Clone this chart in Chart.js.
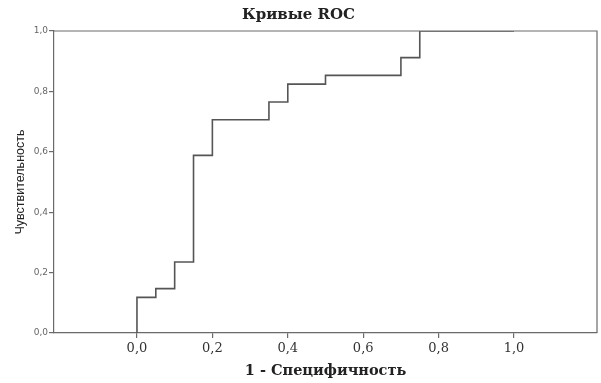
<!DOCTYPE html>
<html>
<head>
<meta charset="utf-8">
<script src="https://cdn.jsdelivr.net/npm/chart.js@4/dist/chart.umd.min.js"></script>
<style>
html,body{margin:0;padding:0;background:#fff;}
#wrap{width:601px;height:383px;}
</style>
</head>
<body>
<div id="wrap"><canvas id="c" width="601" height="383"></canvas></div>
<script>
// ROC staircase vertices
const fpr = [0, 0, 0.05, 0.05, 0.10, 0.10, 0.15, 0.15, 0.20, 0.20, 0.35, 0.35, 0.40, 0.40, 0.50, 0.50, 0.70, 0.70, 0.75, 0.75, 1.00];
const tpr = [0, 0.118, 0.118, 0.147, 0.147, 0.235, 0.235, 0.588, 0.588, 0.706, 0.706, 0.765, 0.765, 0.824, 0.824, 0.853, 0.853, 0.912, 0.912, 1.0, 1.0];
const xTicks = [0, 0.2, 0.4, 0.6, 0.8, 1.0];
const yTicks = [0, 0.2, 0.4, 0.6, 0.8, 1.0];
const titleText = 'Кривые ROC';
const xTitle = '1 - Специфичность';
const yTitle = 'Чувствительность';

const fmt = v => Number(v).toFixed(1).replace('.', ',');
const points = fpr.map((x, i) => ({x: x, y: tpr[i]}));

const frame = {
  id: 'frame',
  afterDraw(chart) {
    const a = chart.chartArea, ctx = chart.ctx;
    ctx.save();
    ctx.strokeStyle = '#6a6a6a';
    ctx.lineWidth = 1.2;
    ctx.beginPath();
    ctx.moveTo(a.left, a.top);
    ctx.lineTo(a.right, a.top);
    ctx.lineTo(a.right, a.bottom);
    ctx.stroke();
    ctx.restore();
  }
};

new Chart(document.getElementById('c'), {
  type: 'scatter',
  data: {
    datasets: [{
      data: points,
      showLine: true,
      borderColor: '#555555',
      borderWidth: 1.6,
      pointRadius: 0,
      fill: false,
      tension: 0
    }]
  },
  options: {
    responsive: false,
    animation: false,
    layout: {padding: {left: 0, right: 4, top: 0, bottom: 0}},
    plugins: {
      legend: {display: false},
      tooltip: {enabled: false},
      title: {
        display: true,
        text: titleText,
        color: '#222',
        font: {family: 'DejaVu Serif', size: 15, weight: 'bold'},
        padding: {top: 6, bottom: 7}
      }
    },
    scales: {
      x: {
        type: 'linear',
        min: -0.22,
        max: 1.22,
        afterBuildTicks: s => { s.ticks = xTicks.map(v => ({value: v})); },
        afterFit: s => { s.height = 50; },
        grid: {display: true, drawOnChartArea: false, drawTicks: true, tickLength: 5, color: '#6a6a6a', lineWidth: 1.2},
        border: {display: true, color: '#6a6a6a', width: 1.2},
        ticks: {
          color: '#333',
          font: {family: 'DejaVu Serif', size: 13},
          padding: 3,
          maxRotation: 0,
          callback: v => fmt(v)
        },
        title: {
          display: true,
          text: xTitle,
          color: '#222',
          font: {family: 'DejaVu Serif', size: 14.5, weight: 'bold'},
          padding: {top: 4, bottom: 3}
        }
      },
      y: {
        type: 'linear',
        min: 0,
        max: 1,
        afterBuildTicks: s => { s.ticks = yTicks.map(v => ({value: v})); },
        afterFit: s => { s.width = 54; },
        grid: {display: true, drawOnChartArea: false, drawTicks: true, tickLength: 5, color: '#6a6a6a', lineWidth: 1.2},
        border: {display: true, color: '#6a6a6a', width: 1.2},
        ticks: {
          color: '#666',
          font: {family: 'DejaVu Sans', size: 9},
          padding: 1,
          callback: v => fmt(v)
        },
        title: {
          display: true,
          text: yTitle,
          color: '#222',
          font: {family: "'Liberation Sans Narrow', 'Liberation Sans'", size: 12.5},
          padding: {top: 13, bottom: 0}
        }
      }
    }
  },
  plugins: [frame]
});
</script>
</body>
</html>
